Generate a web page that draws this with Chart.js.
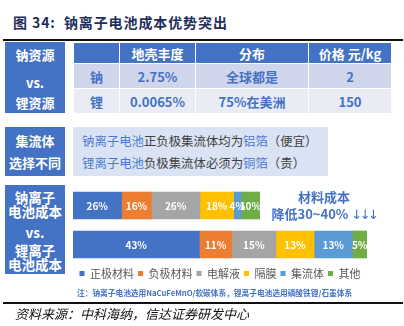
<!DOCTYPE html>
<html>
<head>
<meta charset="utf-8">
<script src="https://cdn.jsdelivr.net/npm/chart.js@4.4.1/dist/chart.umd.min.js"></script>
<style>
  html, body { margin: 0; padding: 0; background: #fff; }
  body { width: 404px; height: 326px; position: relative; overflow: hidden;
         font-family: "Noto Sans CJK SC", "Noto Sans", sans-serif; }
  .abs { position: absolute; }
  .title { left: 13px; top: 12px; font-size: 14px; font-weight: bold; color: #1f2f5c; letter-spacing: 0.9px; line-height: 20px; white-space: nowrap; }
  .rule { left: 3px; width: 400px; height: 2px; background: #111; }
  .tag { left: 5px; width: 60px; background: #4472c4; color: #fff; font-weight: bold; }
  .tag div { position: absolute; left: 0; width: 60px; text-align: center; line-height: 18px; white-space: nowrap; }
  table.res { position: absolute; left: 73px; top: 42px; width: 318px; border-collapse: collapse; table-layout: fixed; }
  table.res td { text-align: center; font-size: 13px; font-weight: bold; padding: 0; white-space: nowrap; border: 1px solid #fff; }
  table.res tr.head td { background: #4472c4; color: #fff; height: 20px; }
  table.res tr.r1 td { background: #cfd5ea; color: #4472c4; height: 24px; }
  table.res tr.r2 td { background: #e9ebf5; color: #4472c4; height: 24px; }
  .foil { left: 73px; top: 127px; width: 255px; height: 49px; background: #dae3f3; font-size: 12.4px; color: #404040; }
  .foil div { position: absolute; left: 9px; line-height: 16px; white-space: nowrap; }
  .foil b { font-weight: normal; color: #4a7bd0; }
  .cut { left: 262px; width: 124px; text-align: center; color: #4472c4; font-weight: bold; font-size: 13px; line-height: 17px; white-space: nowrap; }
  .cut span { font-family: "DejaVu Sans", sans-serif; font-weight: normal; letter-spacing: -2.5px; }
  .note { left: 77px; top: 287px; font-size: 7.7px; font-weight: bold; color: #4472c4; line-height: 12px; white-space: nowrap; }
  .src { left: 15px; top: 305px; font-size: 13px; font-style: italic; color: #111; line-height: 17px; white-space: nowrap; }
  #wrap { position: absolute; left: 73px; top: 186px; width: 294px; height: 103px; }
</style>
</head>
<body>
<div class="abs title">图 34:&nbsp;&nbsp;钠离子电池成本优势突出</div>
<div class="abs rule" style="top:39px"></div>

<div class="abs tag" style="top:42px;height:71px;font-size:13px">
  <div style="top:4px">钠资源</div>
  <div style="top:32px">vs.</div>
  <div style="top:52px">锂资源</div>
</div>
<table class="res" id="res">
  <colgroup><col style="width:46px"><col style="width:76px"><col style="width:113px"><col style="width:83px"></colgroup>
</table>

<div class="abs tag" style="top:127px;height:49px;font-size:13px">
  <div style="top:5px">集流体</div>
  <div style="top:27px">选择不同</div>
</div>
<div class="abs foil">
  <div style="top:6px"><b>钠离子电池</b>正负极集流体均为<b>铝箔</b>（便宜）</div>
  <div style="top:28px"><b>锂离子电池</b>负极集流体必须为<b>铜箔</b>（贵）</div>
</div>

<div class="abs tag" style="top:185px;height:89px;font-size:13.5px">
  <div style="top:3px">钠离子</div>
  <div style="top:17px">电池成本</div>
  <div style="top:38px">vs.</div>
  <div style="top:56px">锂离子</div>
  <div style="top:70px">电池成本</div>
</div>
<div id="wrap"><canvas id="cost" width="294" height="103"></canvas></div>
<div class="abs cut" style="top:188px">材料成本</div>
<div class="abs cut" style="top:205px">降低30~40% <span>↓↓↓</span></div>

<div class="abs note">注：钠离子电池选用NaCuFeMnO/软碳体系，锂离子电池选用磷酸铁锂/石墨体系</div>
<div class="abs rule" style="top:302px"></div>
<div class="abs src">资料来源：中科海纳，信达证券研发中心</div>

<script>
// resource comparison table
var tableHead = ['', '地壳丰度', '分布', '价格 元/kg'];
var naRow = ['钠', '2.75%', '全球都是', '2'];
var liRow = ['锂', '0.0065%', '75%在美洲', '150'];

// cost breakdown, share of each battery's material cost (%)
var parts = ['正极材料', '负极材料', '电解液', '隔膜', '集流体', '其他'];
var naShares = [26, 16, 26, 18, 4, 10];
var liShares = [43, 11, 15, 13, 13, 5];
// total material cost, lithium-ion = 100
var naCostIndex = 63.5;
var liCostIndex = 100;

var partColors = ['#4472c4', '#ed7d31', '#a5a5a5', '#ffc000', '#5b9bd5', '#70ad47'];

var tbl = document.getElementById('res');
[[tableHead, 'head'], [naRow, 'r1'], [liRow, 'r2']].forEach(function (r) {
    var tr = document.createElement('tr');
    tr.className = r[1];
    r[0].forEach(function (txt) {
        var td = document.createElement('td');
        td.textContent = txt;
        tr.appendChild(td);
    });
    tbl.appendChild(tr);
});

// percentage labels in the middle of each segment
var segLabels = {
    id: 'segLabels',
    afterDatasetsDraw: function (chart) {
        var ctx = chart.ctx;
        ctx.save();
        ctx.fillStyle = '#fff';
        ctx.font = 'bold 10px "Noto Sans CJK SC", sans-serif';
        ctx.textAlign = 'center';
        ctx.textBaseline = 'middle';
        chart.data.datasets.forEach(function (ds, i) {
            chart.getDatasetMeta(i).data.forEach(function (bar, j) {
                ctx.fillText(ds.shares[j] + '%', (bar.x + bar.base) / 2, bar.y + 0.5);
            });
        });
        ctx.restore();
    }
};

new Chart(document.getElementById('cost'), {
    type: 'bar',
    data: {
        labels: ['钠离子电池', '锂离子电池'],
        datasets: parts.map(function (p, i) {
            return {
                label: p,
                data: [naShares[i] * naCostIndex / 100, liShares[i] * liCostIndex / 100],
                shares: [naShares[i], liShares[i]],
                backgroundColor: partColors[i],
                borderWidth: 0,
                barThickness: 27
            };
        })
    },
    options: {
        indexAxis: 'y',
        responsive: false,
        animation: false,
        layout: { padding: 0 },
        scales: {
            x: { stacked: true, display: false, min: 0, max: 100 },
            y: { stacked: true, display: false }
        },
        plugins: {
            legend: {
                position: 'bottom',
                labels: {
                    boxWidth: 5,
                    boxHeight: 5,
                    padding: 4,
                    color: '#595959',
                    font: { family: '"Noto Sans CJK SC", sans-serif', size: 11 }
                }
            },
            tooltip: { enabled: false }
        }
    },
    plugins: [segLabels]
});
</script>
</body>
</html>
